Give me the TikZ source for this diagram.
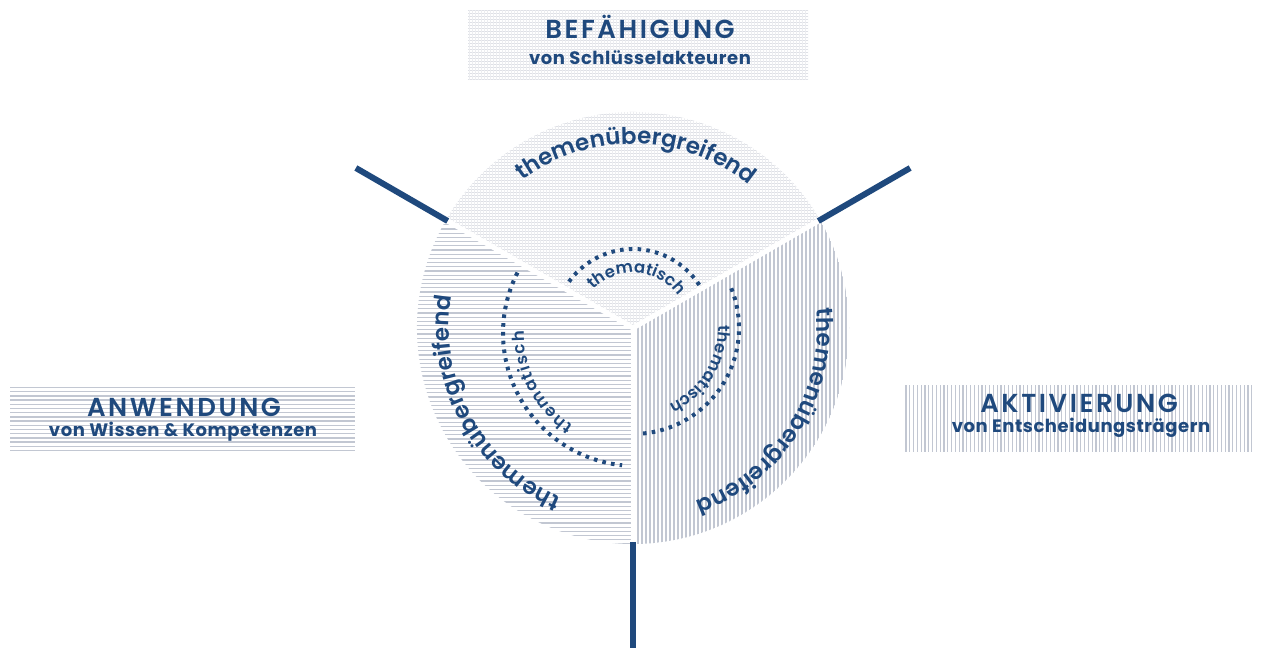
\documentclass[tikz,border=0pt]{standalone}
\usepackage{fontspec}
\setmainfont{Poppins}
\newfontfamily\popsemi{Poppins SemiBold}
\newfontfamily\popsemiwide{Poppins SemiBold}[LetterSpace=10]
\newfontfamily\popboldwide{Poppins Bold}[LetterSpace=3]
\usetikzlibrary{decorations.text}

\definecolor{navy}{RGB}{31,73,125}
\definecolor{hatchline}{RGB}{194,199,210}
\definecolor{gridrow}{RGB}{222,224,230}
\definecolor{gridcol}{RGB}{236,237,240}

\newcommand\arcouter{\popsemi\fontsize{23}{23}\selectfont}
\newcommand\arcinner{\popsemi\fontsize{16.5}{16.5}\selectfont}

\tikzset{
  spoke/.style={draw=navy, line width=6pt},
  seam/.style={draw=white, line width=5pt},
  dotarc/.style={draw=navy, line width=4pt, dash pattern=on 3.6pt off 5.2pt},
  rowline/.style={draw=hatchline, line width=1.3pt},
  colline/.style={draw=hatchline, line width=1.2pt},
  gridrowline/.style={draw=gridrow, line width=0.9pt},
  gridcolline/.style={draw=gridcol, line width=0.7pt},
  title/.style={anchor=base, inner sep=0pt, text=navy, font=\popsemiwide\fontsize{26}{26}\selectfont},
  subtitle/.style={anchor=base, inner sep=0pt, text=navy, font=\popboldwide\fontsize{18}{18}\selectfont},
  outerlabel/.style={decorate, decoration={text along path, text align={fit to path}, text color=navy, text={|\arcouter|#1}}},
  innerlabel/.style={decorate, decoration={text along path, text align={fit to path}, text color=navy, text={|\arcinner|#1}}},
}

\begin{document}
\begin{tikzpicture}[x=1pt,y=1pt]
\useasboundingbox (0,0) rectangle (1262,648);

% header panel: BEFÄHIGUNG
\begin{scope}
  \clip (468,568) rectangle (808,638);
  \foreach \y in {569,572,...,638} \draw[gridrowline] (468,\y) -- (808,\y);
  \foreach \x in {469,472,...,808} \draw[gridcolline] (\x,568) -- (\x,638);
\end{scope}
\node[title] (befTitle) at (640,609) {BEFÄHIGUNG};
\node[subtitle] (befSub) at (640,583) {von Schlüsselakteuren};

% left panel: ANWENDUNG
\begin{scope}
  \clip (10,196) rectangle (355,263);
  \foreach \y in {197.5,201.7,...,263} \draw[rowline] (10,\y) -- (355,\y);
\end{scope}
\node[title] (anwTitle) at (184,231) {ANWENDUNG};
\node[subtitle] (anwSub) at (183,211) {von Wissen \& Kompetenzen};

% right panel: AKTIVIERUNG
\begin{scope}
  \clip (905,196) rectangle (1253,263);
  \foreach \x in {906,909.8,...,1253} \draw[colline] (\x,196) -- (\x,263);
\end{scope}
\node[title] (aktTitle) at (1079,235) {AKTIVIERUNG};
\node[subtitle] (aktSub) at (1081,215) {von Entscheidungsträgern};

% the wheel
\begin{scope}[shift={(633,320)}]
  \coordinate (C) at (0,0);
  % upper sector: fine grid
  \begin{scope}
    \clip (0,0) -- (30:216) arc[start angle=30, end angle=150, radius=216] -- cycle;
    \foreach \y in {1,4,...,217} \draw[gridrowline] (-217,\y) -- (217,\y);
    \foreach \x in {-216,-213,...,217} \draw[gridcolline] (\x,0) -- (\x,217);
  \end{scope}
  % left sector: horizontal rules
  \begin{scope}
    \clip (0,0) -- (150:216) arc[start angle=150, end angle=270, radius=216] -- cycle;
    \foreach \y in {-216,-211.8,...,112} \draw[rowline] (-217,\y) -- (0,\y);
  \end{scope}
  % right sector: vertical rules
  \begin{scope}
    \clip (0,0) -- (270:216) arc[start angle=270, end angle=390, radius=216] -- cycle;
    \foreach \x in {1,5,...,217} \draw[colline] (\x,-217) -- (\x,112);
  \end{scope}
  % white seams between sectors
  \foreach \a in {30,150,270} \draw[seam] (C) -- (\a:218);
  % spokes
  \foreach \a/\k in {30/r,150/l,270/b} {
    \coordinate (rim\k) at (\a:214);
    \coordinate (tip\k) at (\a:320);
    \draw[spoke] (rim\k) -- (tip\k);
  }

  % dotted inner arcs
  \draw[dotarc] (33:79) arc[start angle=33, end angle=145, radius=79];
  \draw[dotarc] (22:106) arc[start angle=22, end angle=-85, radius=106];
  \draw[dotarc, shift={(3,-5)}] (153:133) arc[start angle=153, end angle=264, radius=133];

  % outer labels
  \path[outerlabel=themenübergreifend] (127:184) arc[start angle=127, end angle=51, radius=184];
  \path[outerlabel=themenübergreifend] (247:184) arc[start angle=247, end angle=170, radius=184];
  \path[outerlabel=themenübergreifend] (6:184) arc[start angle=6, end angle=-70, radius=184];

  % inner labels
  \path[innerlabel=thematisch] (136:55) arc[start angle=136, end angle=38, radius=55];
  \path[innerlabel=thematisch] (2:85) arc[start angle=2, end angle=-65, radius=85];
  \path[innerlabel=thematisch, shift={(3,-5)}] (236:112) arc[start angle=236, end angle=179, radius=112];
\end{scope}
\end{tikzpicture}
\end{document}
